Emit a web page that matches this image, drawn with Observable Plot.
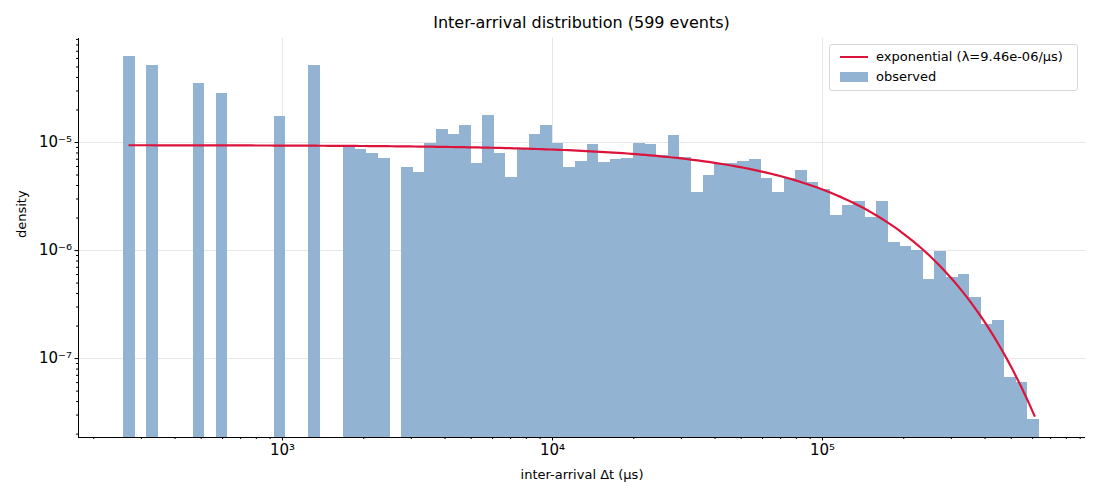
<!DOCTYPE html>
<html><head><meta charset="utf-8">
<script src="https://cdn.jsdelivr.net/npm/d3@7"></script>
<script src="https://cdn.jsdelivr.net/npm/@observablehq/plot@0.6"></script>
<style>
body{margin:0;background:#fff;font-family:"DejaVu Sans",sans-serif;}
#wrap{position:relative;width:1100px;height:500px;}
#title{position:absolute;top:13px;left:0;width:1163px;text-align:center;font-size:16px;color:#000;}
#legend{position:absolute;left:829px;top:44px;width:247px;height:45px;border:1px solid #d6d6d6;border-radius:3px;background:rgba(255,255,255,0.85);font-size:13px;}
.row{position:absolute;left:8px;display:flex;align-items:center;}
</style></head><body>
<div id="wrap"><div id="chart"></div>
<div id="title">Inter-arrival distribution (599 events)</div>
<div id="legend">
 <div class="row" style="top:4px"><svg width="30" height="12"><line x1="2" x2="30" y1="6" y2="6" stroke="#dc143c" stroke-width="2"/></svg><span style="margin-left:8px">exponential (λ=9.46e-06/μs)</span></div>
 <div class="row" style="top:24px"><svg width="30" height="12"><rect x="2" y="1" width="28" height="10" fill="#92b3d1"/></svg><span style="margin-left:8px">observed</span></div>
</div></div>
<script>
const binStartLog = 2.4111, binWidthLog = 0.04293, binCount = 79;
const sparseBins = [0, 2, 6, 8, 13, 16];
const sparseDensity = [6.25e-5, 5.16e-5, 3.52e-5, 2.84e-5, 1.74e-5, 5.16e-5];
const denseStart = 19;
const denseDensity = [9.4e-6,8.6e-6,7.9e-6,7.1e-6,0,5.9e-6,5.3e-6,9.8e-6,1.32e-5,1.19e-5,1.44e-5,6.4e-6,1.78e-5,7.9e-6,4.7e-6,8.6e-6,1.19e-5,1.44e-5,9.8e-6,5.9e-6,6.7e-6,9.6e-6,6.5e-6,7.0e-6,7.1e-6,9.8e-6,9.6e-6,7.6e-6,1.16e-5,7.3e-6,3.44e-6,4.9e-6,6.4e-6,6.4e-6,6.7e-6,7.0e-6,4.6e-6,3.44e-6,4.6e-6,5.5e-6,4.3e-6,3.67e-6,2.11e-6,2.61e-6,2.84e-6,2.02e-6,2.84e-6,1.19e-6,1.09e-6,1.0e-6,5.4e-7,9.8e-7,5.6e-7,6.0e-7,3.67e-7,2.07e-7,2.25e-7,6.7e-8,6.0e-8,2.72e-8];
const lambda = 9.46e-6;
const curveRange = [271, 610000];
const xTicks = [1e3, 1e4, 1e5];
const yTicks = [1e-7, 1e-6, 1e-5];
const xDomain = [175.6, 942000], yDomain = [1.86e-8, 9.18e-5];

const bins = [];
sparseBins.forEach((b,i)=>bins.push({b, d: sparseDensity[i]}));
denseDensity.forEach((d,i)=>{ if(d>0) bins.push({b: denseStart+i, d}); });
bins.forEach(o=>{o.x1=10**(binStartLog+o.b*binWidthLog); o.x2=10**(binStartLog+(o.b+1)*binWidthLog);});
const curve = d3.range(0,201).map(i=>{const t=10**(Math.log10(curveRange[0])+i/200*(Math.log10(curveRange[1])-Math.log10(curveRange[0]))); return {t, y: lambda*Math.exp(-lambda*t)};});
const minorX = [], minorY = [];
for (let e=2;e<=5;e++) for (let k=2;k<10;k++){const v=k*10**e; if(v>=xDomain[0]&&v<=xDomain[1]) minorX.push(v);}
for (let e=-8;e<=-5;e++) for (let k=2;k<10;k++){const v=k*10**e; if(v>=yDomain[0]&&v<=yDomain[1]) minorY.push(v);}
const sup = s=>String(s).replace(/-/g,"⁻").replace(/\d/g,c=>"⁰¹²³⁴⁵⁶⁷⁸⁹"[c]);
const fmt = v=>"10"+sup(Math.round(Math.log10(v)));

const chart = Plot.plot({
  width:1100, height:500, marginTop:38, marginBottom:63, marginLeft:78, marginRight:15,
  style:{fontFamily:"DejaVu Sans", fontSize:"12px", color:"#000"},
  x:{type:"log", domain:xDomain, label:null},
  y:{type:"log", domain:yDomain, label:null},
  marks:[
    Plot.gridX(xTicks,{stroke:"#e6e6e6", strokeOpacity:1}),
    Plot.gridY(yTicks,{stroke:"#e6e6e6", strokeOpacity:1}),
    Plot.rectY(bins,{x1:"x1", x2:"x2", y1:yDomain[0], y2:"d", fill:"#92b3d1", inset:0, shapeRendering:"crispEdges"}),
    Plot.line(curve,{x:"t", y:"y", stroke:"#dc143c", strokeWidth:2.2}),
    Plot.axisX(xTicks,{tickFormat:fmt, tickSize:3.5, fontSize:15, tickPadding:3}),
    Plot.axisX(minorX,{tickFormat:()=>"", tickSize:2, label:null}),
    Plot.axisY(yTicks,{tickFormat:fmt, tickSize:3.5, fontSize:15, tickPadding:3, label:null}),
    Plot.axisY(minorY,{tickFormat:()=>"", tickSize:2, label:null}),
    Plot.ruleX([xDomain[0]],{stroke:"#000"}),
    Plot.ruleY([yDomain[0]],{stroke:"#000"}),
    Plot.text(["inter-arrival Δt (μs)"],{frameAnchor:"bottom", dy:41, fontSize:13}),
    Plot.text(["density"],{frameAnchor:"left", dx:-57, rotate:-90, fontSize:13})
  ]
});
document.getElementById("chart").append(chart);
</script></body></html>
